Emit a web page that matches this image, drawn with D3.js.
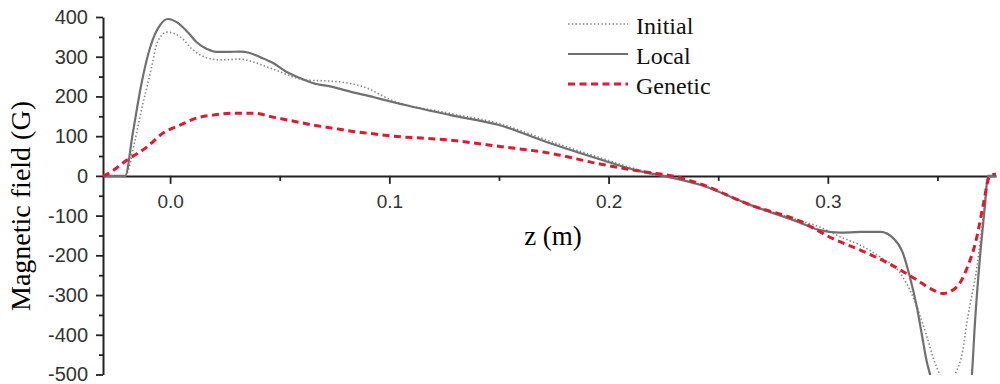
<!DOCTYPE html>
<html>
<head>
<meta charset="utf-8">
<script src="https://cdn.jsdelivr.net/npm/d3@7"></script>
<style>
  body { margin: 0; background: #fff; }
  svg { display: block; }
</style>
</head>
<body>
<div id="chart"></div>
<script>
const width = 1000
const height = 384

// datos (z en m, B en G)
const initialZ = [-0.0306, -0.0205, -0.016, -0.0125, -0.0105, -0.008, -0.0059, -0.0014, 0.0046, 0.0105, 0.0169, 0.0228, 0.0319, 0.0378, 0.0442, 0.0502, 0.0561, 0.0625, 0.0716, 0.0807, 0.0898, 0.1, 0.128, 0.15, 0.173, 0.196, 0.214, 0.226, 0.242, 0.2645, 0.287, 0.296, 0.3055, 0.3146, 0.3238, 0.3329, 0.3388, 0.3452, 0.3488, 0.3511, 0.3545, 0.358, 0.3616, 0.3634, 0.368, 0.3707, 0.373, 0.374, 0.3767]
const initialB = [0, 0, 90, 180, 224, 285, 335, 362, 350, 317, 297, 292, 294, 287, 274, 262, 249, 241, 239, 234, 221, 193, 157, 132, 88, 46, 15, 0, -22, -72, -112, -128, -153, -174, -204, -244, -304, -405, -470, -500, -540, -500, -438, -370, -229, -110, -10, 0, 0]

const localZ = [-0.0306, -0.0205, -0.017, -0.013, -0.009, -0.0045, -0.001, 0.003, 0.008, 0.012, 0.017, 0.021, 0.026, 0.032, 0.036, 0.041, 0.047, 0.053, 0.059, 0.065, 0.074, 0.083, 0.093, 0.1, 0.128, 0.15, 0.173, 0.196, 0.214, 0.225, 0.242, 0.2645, 0.287, 0.296, 0.3055, 0.315, 0.324, 0.3297, 0.3342, 0.3374, 0.3406, 0.3429, 0.3452, 0.3466, 0.35, 0.356, 0.362, 0.3657, 0.3671, 0.3694, 0.3716, 0.373, 0.3767]
const localB = [0, 0, 108, 234, 325, 380, 395, 387, 362, 337, 319, 312, 312, 313, 310, 299, 284, 262, 247, 234, 224, 211, 198, 188, 153, 128, 83, 42, 12, 0, -23, -73, -117, -136, -143, -141, -141, -156, -194, -254, -330, -400, -470, -500, -610, -720, -620, -500, -370, -204, -78, 0, 0]

const geneticZ = [-0.0306, -0.0296, -0.0196, -0.0105, -0.0032, 0.0046, 0.0123, 0.0196, 0.0287, 0.0378, 0.0469, 0.056, 0.0652, 0.0743, 0.0834, 0.0926, 0.1, 0.1277, 0.1505, 0.1733, 0.196, 0.219, 0.229, 0.2417, 0.2645, 0.2873, 0.3023, 0.3178, 0.3329, 0.3406, 0.3479, 0.3525, 0.3589, 0.3634, 0.368, 0.3707, 0.3739, 0.3767]
const geneticB = [0, 2, 40, 73, 108, 128, 146, 153, 158, 158, 148, 138, 128, 120, 112, 106, 101, 90, 74, 57, 30, 8, 0, -20, -73, -114, -158, -194, -236, -262, -287, -296, -279, -233, -153, -78, 0, 5]

const yMajor = [-500, -400, -300, -200, -100, 0, 100, 200, 300, 400]
const yMinor = [-450, -350, -250, -150, -50, 50, 150, 250, 350]
const xMajor = [0, 0.1, 0.2, 0.3]
const xMinor = [0.05, 0.15, 0.25, 0.35]

const legendNames = ["Initial", "Local", "Genetic"]

const svg = d3.select("#chart")
  .append("svg")
  .attr("width", width)
  .attr("height", height)

// Escalas
const x = d3.scaleLinear().domain([-0.0306, 0.3767]).range([103, 996])
const y = d3.scaleLinear().domain([-500, 400]).range([374.5, 17])

svg.append("clipPath").attr("id", "clip")
  .append("rect")
  .attr("x", 103).attr("y", 0)
  .attr("width", 897).attr("height", 375)

// Ejes
const yAxisGroup = svg.append("g").attr("transform", `translate(${x.range()[0]},0)`)
yAxisGroup.call(d3.axisLeft(y).tickValues(yMajor).tickFormat(d => String(d)).tickSize(7).tickSizeOuter(0).tickPadding(8))
yAxisGroup.append("g").call(d3.axisLeft(y).tickValues(yMinor).tickSize(4).tickFormat(""))
  .select(".domain").remove()

const xAxisGroup = svg.append("g").attr("transform", `translate(0,${y(0)})`)
xAxisGroup.call(d3.axisBottom(x).tickValues(xMajor).tickFormat(d => d.toFixed(1)).tickSize(8).tickSizeOuter(0).tickPadding(11))
xAxisGroup.append("g").call(d3.axisBottom(x).tickValues(xMinor).tickSize(5).tickFormat(""))
  .select(".domain").remove()

svg.selectAll(".domain").attr("stroke", "#222").attr("stroke-width", 2)
svg.selectAll(".tick line").attr("stroke", "#222").attr("stroke-width", 1.8)
yAxisGroup.selectAll(".tick text")
  .attr("font-family", "Liberation Sans, Arial, sans-serif")
  .attr("font-size", 20).attr("fill", "#333")
xAxisGroup.selectAll(".tick text")
  .attr("font-family", "Liberation Sans, Arial, sans-serif")
  .attr("font-size", 19).attr("fill", "#333")

// Titulos
svg.append("text")
  .attr("transform", "translate(30,206) rotate(-90)")
  .attr("text-anchor", "middle")
  .attr("font-family", "Liberation Serif, Times New Roman, serif")
  .attr("font-size", 28)
  .text("Magnetic field (G)")

svg.append("text")
  .attr("x", 553).attr("y", 245)
  .attr("text-anchor", "middle")
  .attr("font-family", "Liberation Serif, Times New Roman, serif")
  .attr("font-size", 27)
  .text("z (m)")

// Curvas
const styles = [
  { z: initialZ, b: initialB, color: "#8a8a8a", w: 1.6, dash: "1.5,2.2" },
  { z: localZ, b: localB, color: "#707070", w: 2.2, dash: null },
  { z: geneticZ, b: geneticB, color: "#e3172e", w: 3, dash: "7,4.5" },
]

// monotone para no pasar por debajo de 0 al inicio
const line = d3.line()
  .x(d => x(d[0]))
  .y(d => y(d[1]))
  .curve(d3.curveMonotoneX)

const curves = svg.append("g").attr("clip-path", "url(#clip)")
styles.forEach(s => {
  curves.append("path")
    .datum(s.z.map((z, i) => [z, s.b[i]]))
    .attr("d", line)
    .attr("fill", "none")
    .attr("stroke", s.color)
    .attr("stroke-width", s.w)
    .attr("stroke-dasharray", s.dash)
})

// Leyenda
const legend = svg.append("g")
styles.forEach((s, i) => {
  const ly = 24 + i * 30
  legend.append("line")
    .attr("x1", 568).attr("x2", 628)
    .attr("y1", ly).attr("y2", ly)
    .attr("stroke", s.color)
    .attr("stroke-width", s.w)
    .attr("stroke-dasharray", s.dash)
  legend.append("text")
    .attr("x", 636).attr("y", ly + 9.5)
    .attr("font-family", "Liberation Serif, Times New Roman, serif")
    .attr("font-size", 24)
    .attr("fill", "#111")
    .text(legendNames[i])
})
</script>
</body>
</html>
